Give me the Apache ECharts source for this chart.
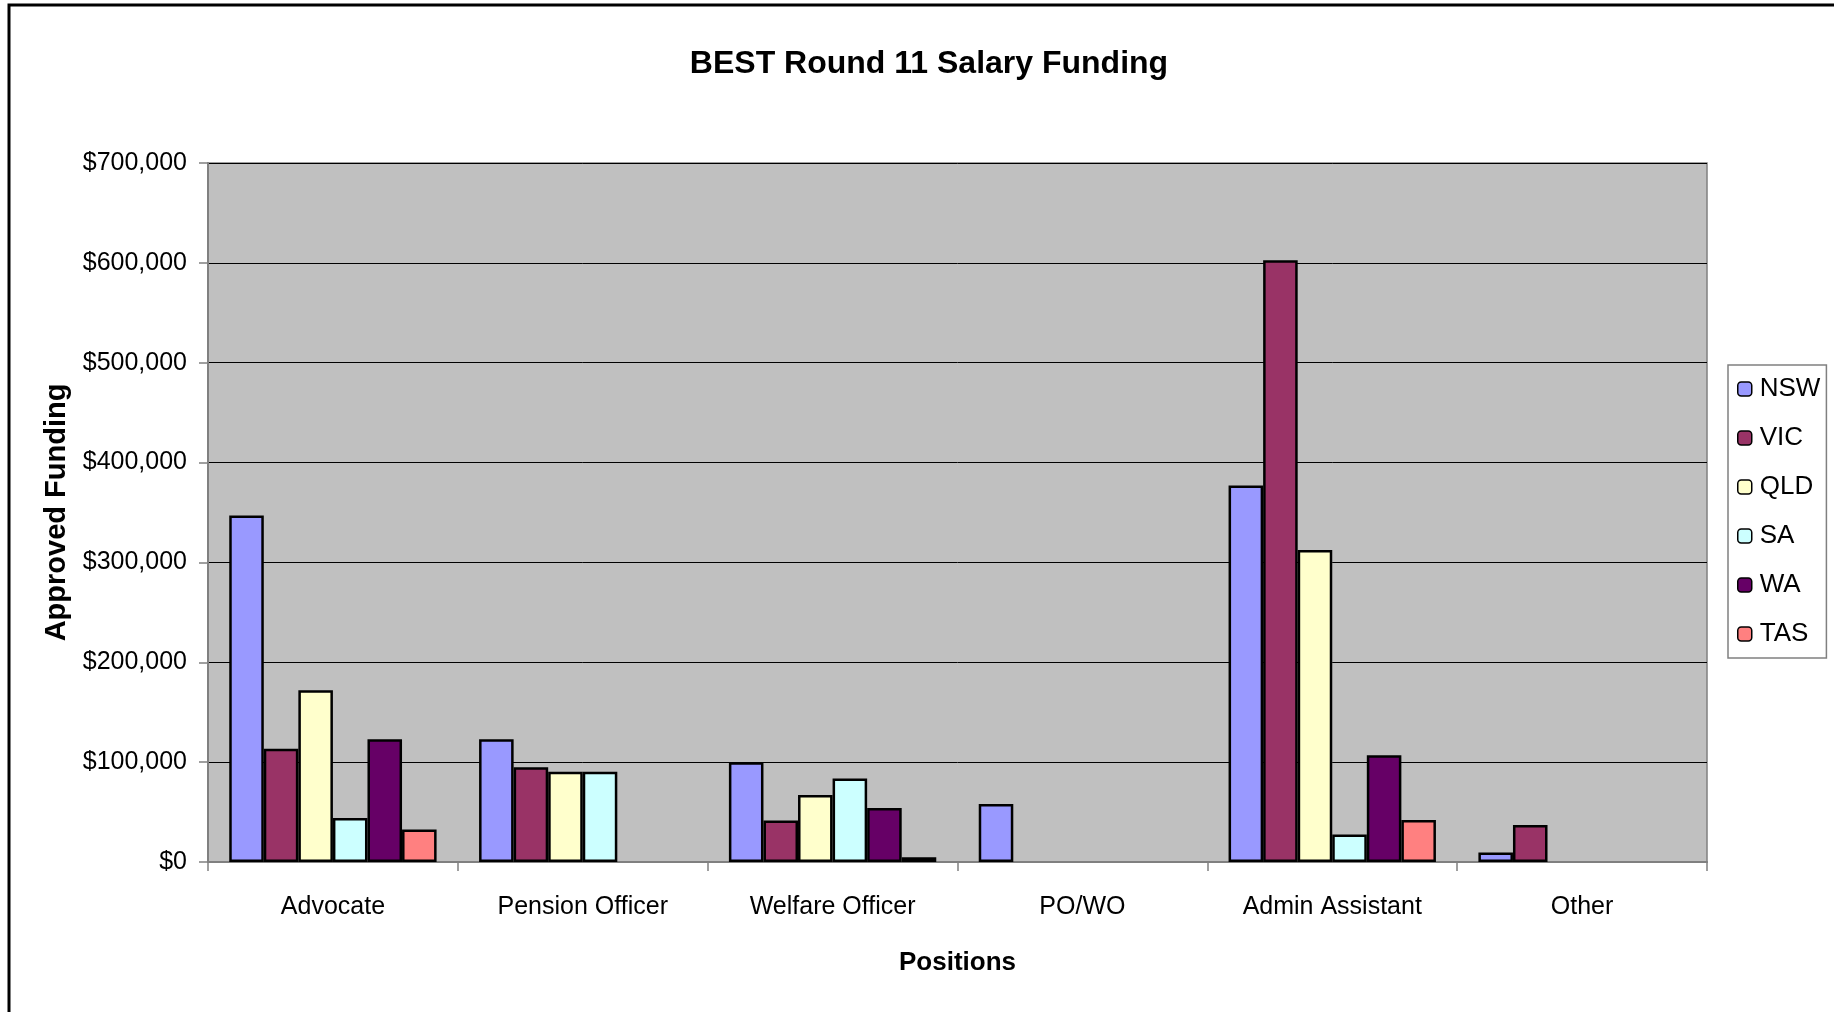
<!DOCTYPE html>
<html>
<head>
<meta charset="utf-8">
<script src="https://cdn.jsdelivr.net/npm/echarts@6/dist/echarts.min.js"></script>
<style>
html,body{margin:0;padding:0;background:#fff;}
#chart{width:1834px;height:1012px;}
</style>
</head>
<body>
<div id="chart"></div>
<script>
const categories = ['Advocate', 'Pension Officer', 'Welfare Officer', 'PO/WO', 'Admin Assistant', 'Other'];
const seriesNames = ['NSW', 'VIC', 'QLD', 'SA', 'WA', 'TAS'];
const nsw = [347000, 123000, 100000, 58000, 377000, 9500];
const vic = [113500, 95000, 41500, null, 602500, 37000];
const qld = [172000, 90500, 67000, null, 312500, null];
const sa  = [44000, 90500, 83500, null, 27500, null];
const wa  = [123000, null, 54000, null, 107000, null];
const tas = [32500, null, 4700, null, 42000, null];
const yTicks = [0, 100000, 200000, 300000, 400000, 500000, 600000, 700000];

const seriesData = [nsw, vic, qld, sa, wa, tas];
const colors = ['#9999FF', '#993366', '#FFFFCC', '#CCFFFF', '#660066', '#FF8080'];
const FONT = 'Liberation Sans, Arial, sans-serif';

const chart = echarts.init(document.getElementById('chart'), null, {renderer: 'canvas'});
const option = {
  animation: false,
  backgroundColor: '#ffffff',
  title: {
    text: 'BEST Round 11 Salary Funding',
    left: 924, top: 43,
    textAlign: 'center',
    textStyle: {fontFamily: FONT, fontSize: 32, fontWeight: 'bold', color: '#000'}
  },
  graphic: [{
    type: 'rect',
    shape: {x: 9, y: 5, width: 1900, height: 1100},
    style: {fill: 'none', stroke: '#000', lineWidth: 3},
    silent: true, z: 100
  }],
  legend: {
    orient: 'vertical',
    left: 1728, top: 365,
    padding: [11, 6, 11, 9],
    itemGap: 23,
    itemWidth: 14, itemHeight: 14,
    backgroundColor: '#fff',
    borderColor: '#808080', borderWidth: 1.5,
    itemStyle: {borderColor: '#000', borderWidth: 1.5},
    textStyle: {fontFamily: FONT, fontSize: 26, color: '#000', padding: [0, 0, 0, 3]},
    data: seriesNames
  },
  grid: {
    left: 208, top: 163, width: 1499, height: 699,
    show: true, backgroundColor: '#C0C0C0', borderColor: '#808080', borderWidth: 1.5,
    containLabel: false
  },
  xAxis: {
    type: 'category',
    data: categories,
    name: 'Positions',
    nameLocation: 'middle',
    nameGap: 88,
    nameTextStyle: {fontFamily: FONT, fontSize: 26, fontWeight: 'bold', color: '#000'},
    axisLine: {lineStyle: {color: '#808080', width: 2}},
    axisTick: {show: true, length: 9, lineStyle: {color: '#808080', width: 1.5}},
    axisLabel: {fontFamily: FONT, fontSize: 25, color: '#000', margin: 33},
    splitLine: {show: false}
  },
  yAxis: {
    type: 'value',
    min: yTicks[0], max: yTicks[yTicks.length - 1], interval: yTicks[1] - yTicks[0],
    name: 'Approved Funding',
    nameLocation: 'middle',
    nameGap: 134,
    nameTextStyle: {fontFamily: FONT, fontSize: 29, fontWeight: 'bold', color: '#000'},
    axisLine: {show: true, lineStyle: {color: '#808080', width: 2}},
    axisTick: {show: true, length: 9, lineStyle: {color: '#808080', width: 1.5}},
    axisLabel: {
      fontFamily: FONT, fontSize: 25, color: '#000', margin: 21,
      formatter: v => '$' + v.toLocaleString('en-US')
    },
    splitLine: {show: true, lineStyle: {color: '#000', width: 1}}
  },
  series: seriesNames.map((n, i) => ({
    name: n,
    type: 'bar',
    data: seriesData[i],
    barGap: '0%',
    barCategoryGap: '17%',
    itemStyle: {color: colors[i], borderColor: '#000', borderWidth: 2.5}
  }))
};
chart.setOption(option);
</script>
</body>
</html>
